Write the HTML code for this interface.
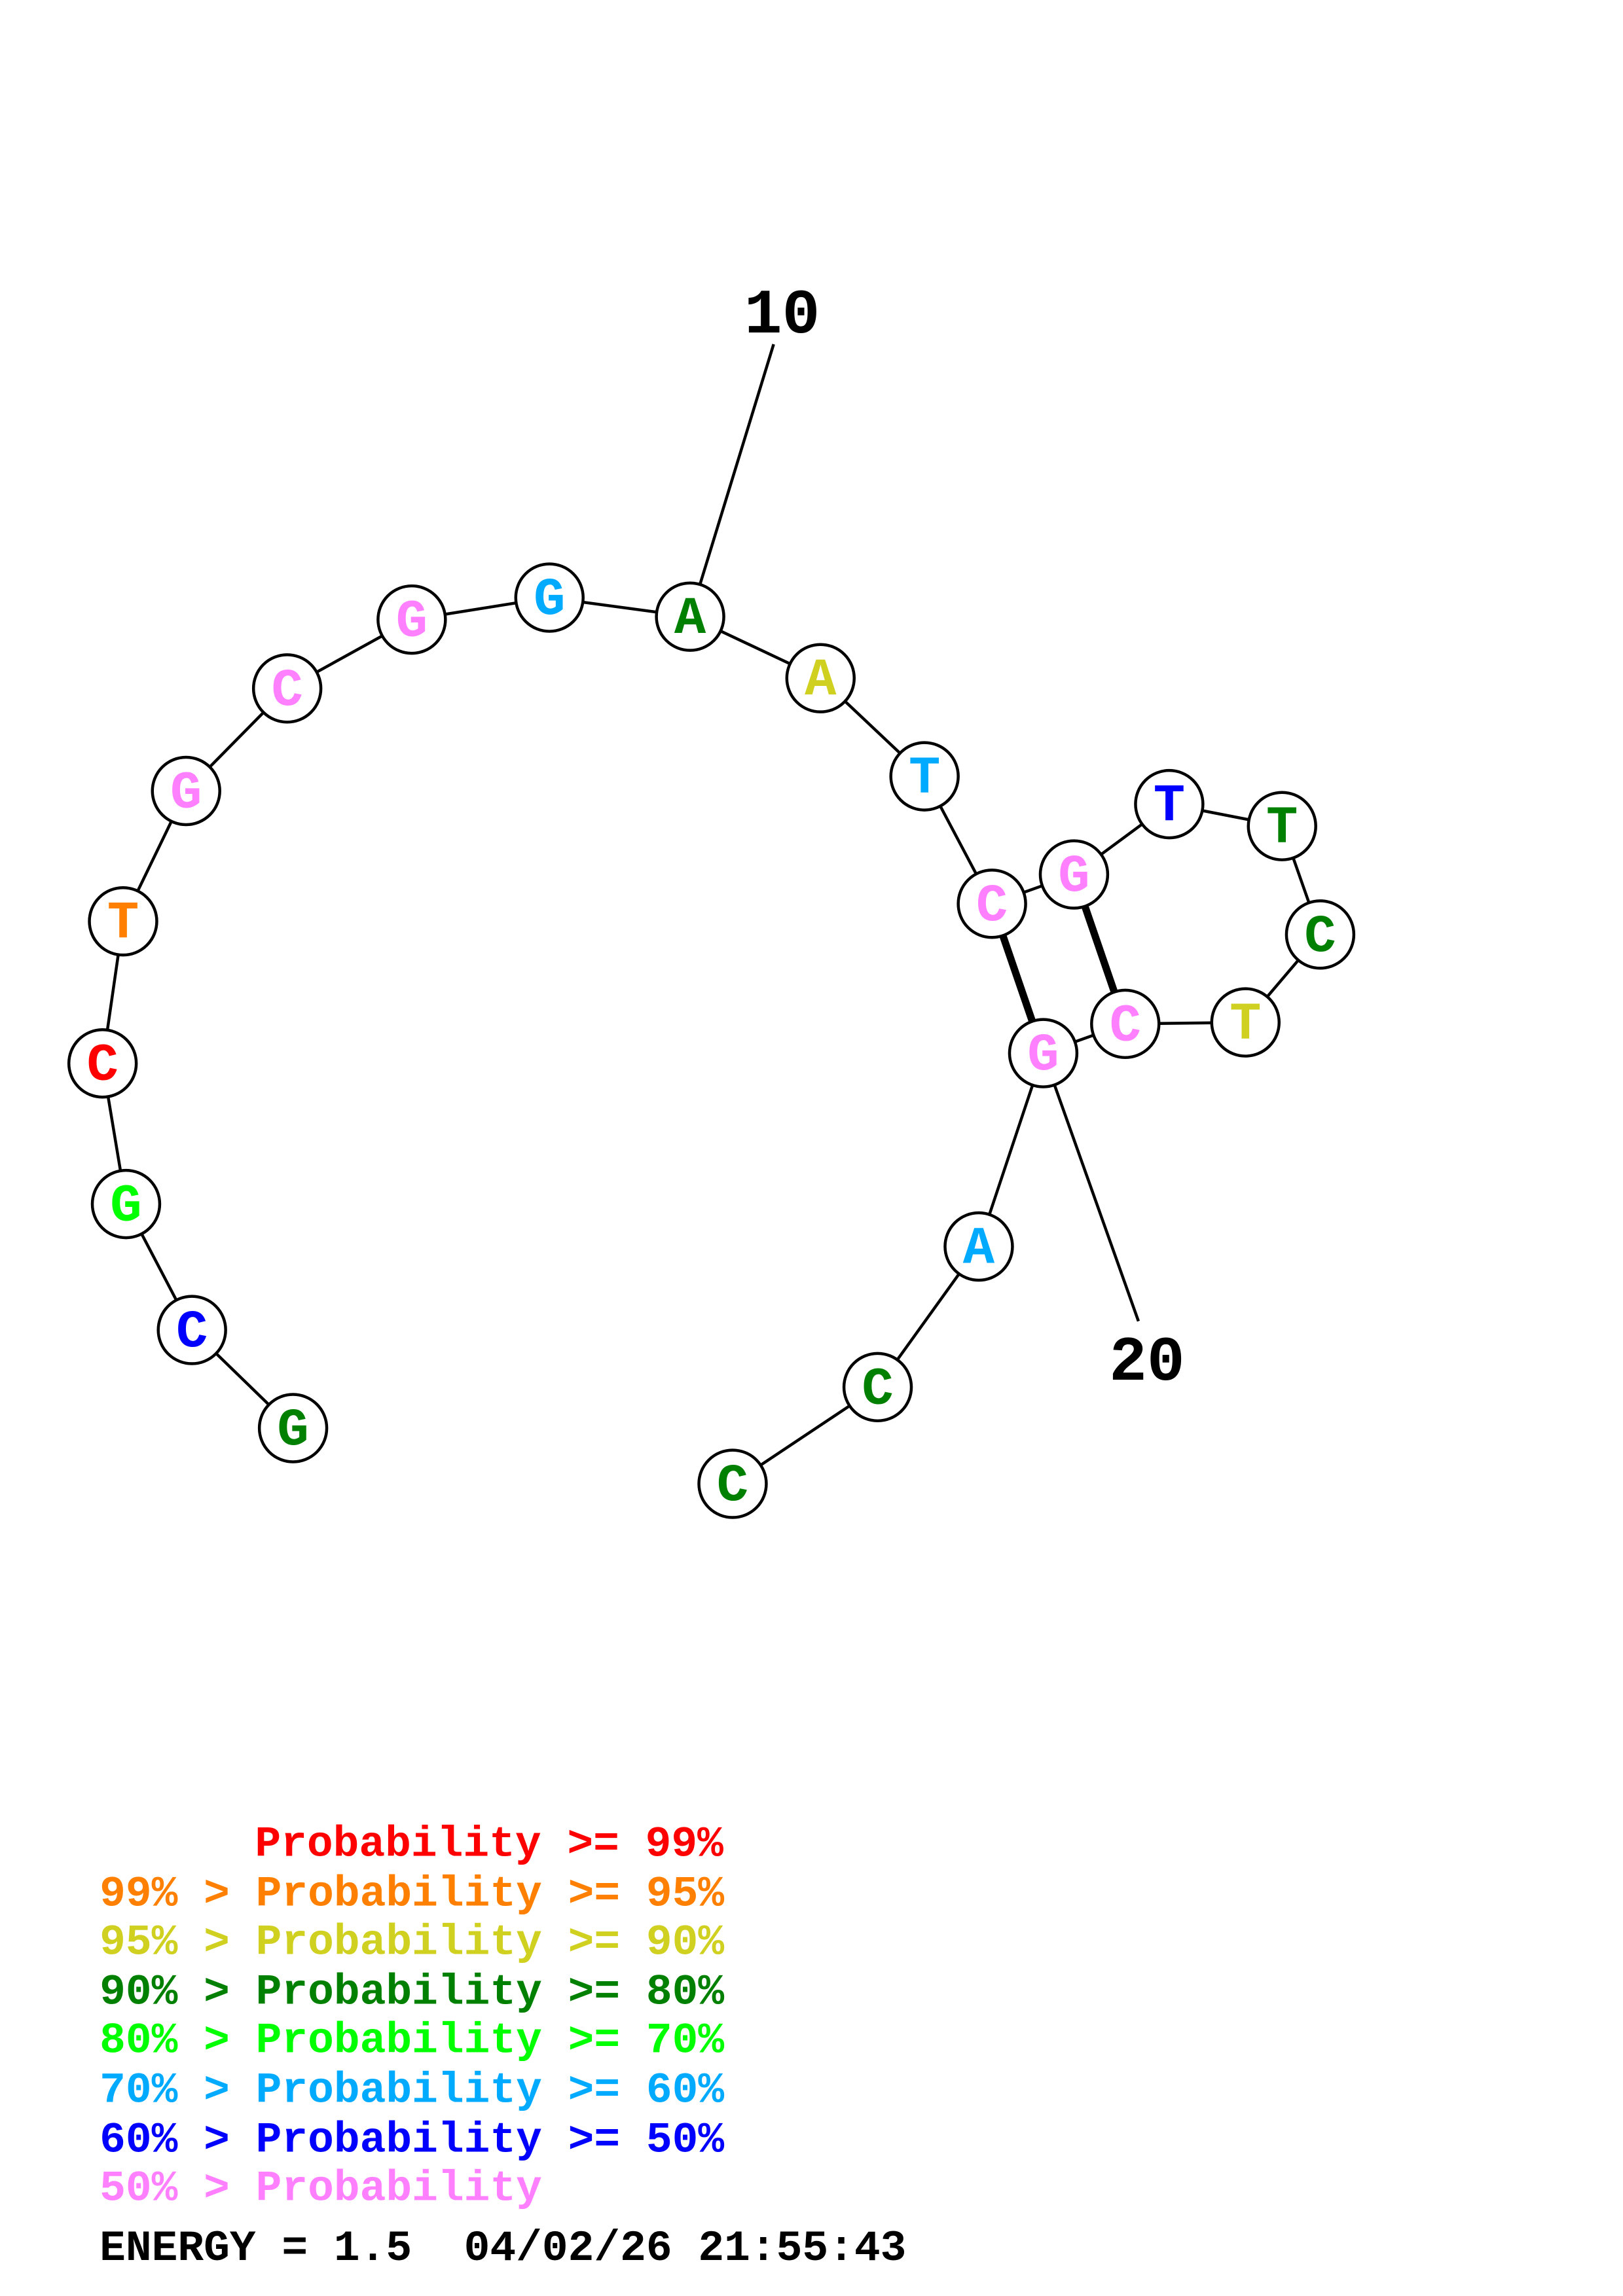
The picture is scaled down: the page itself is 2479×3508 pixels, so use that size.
<!DOCTYPE html>
<html><head><meta charset="utf-8"><style>html,body{margin:0;padding:0;background:#fff}svg{display:block}text{white-space:pre}</style></head>
<body>
<svg width="2479" height="3508" viewBox="0 0 1107.7 1567.5" xmlns="http://www.w3.org/2000/svg" font-family="Liberation Mono, monospace" font-weight="bold">
<rect width="1108" height="1568" fill="#fff"/>
<g stroke="#000" stroke-width="2" fill="none">
<polyline points="200,975 131,908 86,822 70,726 84,629 127,540 196,470 281,423 375,408 471,421 560,463 631,530 677,617 733,597 798,549 875,564 901,638 850,698 768,699 712,719 668,851 599,947 500,1013"/>
<line x1="471" y1="421" x2="528" y2="235"/>
<line x1="712" y1="719" x2="777" y2="902"/>
</g>
<g stroke="#000" stroke-width="5">
<line x1="677" y1="617" x2="712" y2="719"/>
<line x1="733" y1="597" x2="768" y2="699"/>
</g>
<g stroke="#000" stroke-width="2" fill="#fff">
<circle cx="200" cy="975" r="23"/><circle cx="131" cy="908" r="23"/><circle cx="86" cy="822" r="23"/><circle cx="70" cy="726" r="23"/><circle cx="84" cy="629" r="23"/><circle cx="127" cy="540" r="23"/><circle cx="196" cy="470" r="23"/><circle cx="281" cy="423" r="23"/><circle cx="375" cy="408" r="23"/><circle cx="471" cy="421" r="23"/><circle cx="560" cy="463" r="23"/><circle cx="631" cy="530" r="23"/><circle cx="677" cy="617" r="23"/><circle cx="733" cy="597" r="23"/><circle cx="798" cy="549" r="23"/><circle cx="875" cy="564" r="23"/><circle cx="901" cy="638" r="23"/><circle cx="850" cy="698" r="23"/><circle cx="768" cy="699" r="23"/><circle cx="712" cy="719" r="23"/><circle cx="668" cy="851" r="23"/><circle cx="599" cy="947" r="23"/><circle cx="500" cy="1013" r="23"/>
</g>
<g font-size="36" text-anchor="middle" dominant-baseline="central">
<text x="200" y="977" fill="#008000">G</text>
<text x="131" y="910" fill="#0000ff">C</text>
<text x="86" y="824" fill="#00ff00">G</text>
<text x="70" y="728" fill="#ff0000">C</text>
<text x="84" y="631" fill="#ff8000">T</text>
<text x="127" y="542" fill="#ff80ff">G</text>
<text x="196" y="472" fill="#ff80ff">C</text>
<text x="281" y="425" fill="#ff80ff">G</text>
<text x="375" y="410" fill="#00aaff">G</text>
<text x="471" y="423" fill="#008000">A</text>
<text x="560" y="465" fill="#d0d020">A</text>
<text x="631" y="532" fill="#00aaff">T</text>
<text x="677" y="619" fill="#ff80ff">C</text>
<text x="733" y="599" fill="#ff80ff">G</text>
<text x="798" y="551" fill="#0000ff">T</text>
<text x="875" y="566" fill="#008000">T</text>
<text x="901" y="640" fill="#008000">C</text>
<text x="850" y="700" fill="#d0d020">T</text>
<text x="768" y="701" fill="#ff80ff">C</text>
<text x="712" y="721" fill="#ff80ff">G</text>
<text x="668" y="853" fill="#00aaff">A</text>
<text x="599" y="949" fill="#008000">C</text>
<text x="500" y="1015" fill="#008000">C</text>
</g>
<g font-size="43" fill="#000">
<text x="508" y="227">10</text>
<text x="757" y="942">20</text>
</g>
<g font-size="29.6">
<text x="174" y="1267" fill="#ff0000">Probability &gt;= 99%</text>
<text x="68" y="1301" fill="#ff8000">99% &gt; Probability &gt;= 95%</text>
<text x="68" y="1334" fill="#d0d020">95% &gt; Probability &gt;= 90%</text>
<text x="68" y="1368" fill="#008000">90% &gt; Probability &gt;= 80%</text>
<text x="68" y="1401" fill="#00ff00">80% &gt; Probability &gt;= 70%</text>
<text x="68" y="1435" fill="#00aaff">70% &gt; Probability &gt;= 60%</text>
<text x="68" y="1469" fill="#0000ff">60% &gt; Probability &gt;= 50%</text>
<text x="68" y="1502" fill="#ff80ff">50% &gt; Probability</text>
<text x="68" y="1543" fill="#000">ENERGY = 1.5  04/02/26 21:55:43</text>
</g>
</svg>
</body></html>
